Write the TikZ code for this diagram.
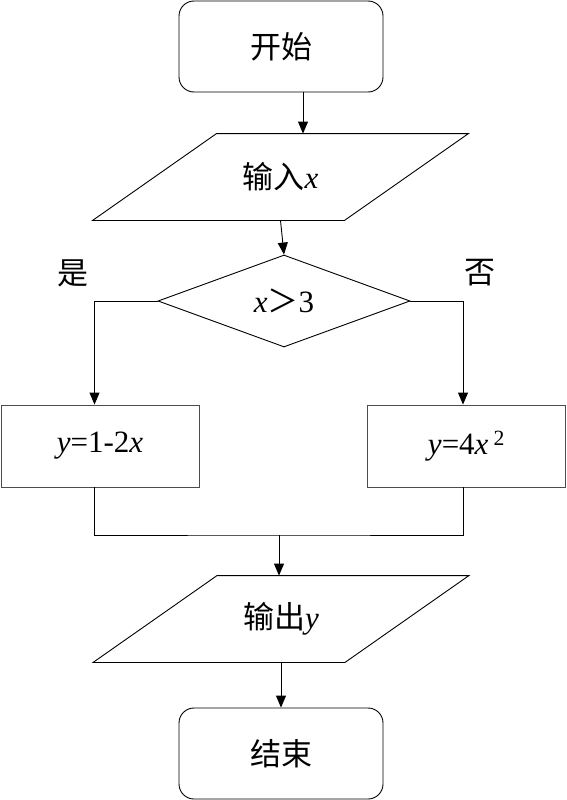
\documentclass[tikz,border=0pt]{standalone}
\usepackage{fontspec}
\setmainfont{Liberation Serif}
\newfontfamily\cjk{Noto Sans CJK SC}
\usetikzlibrary{arrows.meta,positioning,calc,shapes.geometric}

\begin{document}
\begin{tikzpicture}[x=1pt, y=-1pt, line width=0.9pt,
    every node/.style={font=\fontsize{31}{34}\selectfont, inner sep=0pt},
    term/.style={draw, rounded corners=15pt, minimum width=204pt, minimum height=91pt},
    io/.style={minimum width=375pt, minimum height=86pt},
    proc/.style={draw=black!70, minimum width=198pt, minimum height=82pt},
    arr/.style={-{Triangle[length=12pt,width=10pt]}}]
  \useasboundingbox (0,0) rectangle (567,800);
  % boxes
  \node[term] (start) at (281,46.5) {\cjk 开始};
  \node[io] (in) at (280.5,177) {{\cjk 输入}\textit{x}};
  \node[draw, diamond, aspect=2.74, minimum width=252pt, minimum height=92pt] (dec) at (284,301)
    {\textit{x}{\cjk ＞}3};
  \node[proc] (left) at (100,446) {\textit{y}=1-2\textit{x}};
  \node[proc] (right) at (466.5,446) {\textit{y}=4\textit{x}\,\textsuperscript{2}};
  \node[io] (out) at (281,619) {{\cjk 输出}\textit{y}};
  \node[term] (end) at (281,753.5) {\cjk 结束};
  \node (yes) at (73,273) {\cjk 是};
  \node (no) at (480,273) {\cjk 否};
  % slanted sides of the input/output boxes
  \foreach \n in {in,out}
    \draw ([xshift=124pt]\n.north west) -- (\n.north east)
      -- ([xshift=-124pt]\n.south east) -- (\n.south west) -- cycle;
  % connectors
  \draw[arr] ([xshift=22pt]start.south) -- ([xshift=22pt]start.south |- in.north);
  \draw[arr] (in.south) -- (dec.north);
  \draw[arr] (dec.west) -| ([xshift=-5.5pt]left.north);
  \draw[arr] (dec.east) -| ([xshift=-3.5pt]right.north);
  \coordinate (merge) at (279,535);
  \draw ([xshift=-5.5pt]left.south) |- (merge) -| ([xshift=-3.5pt]right.south);
  \draw[arr] (merge) -- (merge |- out.north);
  \draw[arr] (out.south) -- (end.north);
\end{tikzpicture}
\end{document}
